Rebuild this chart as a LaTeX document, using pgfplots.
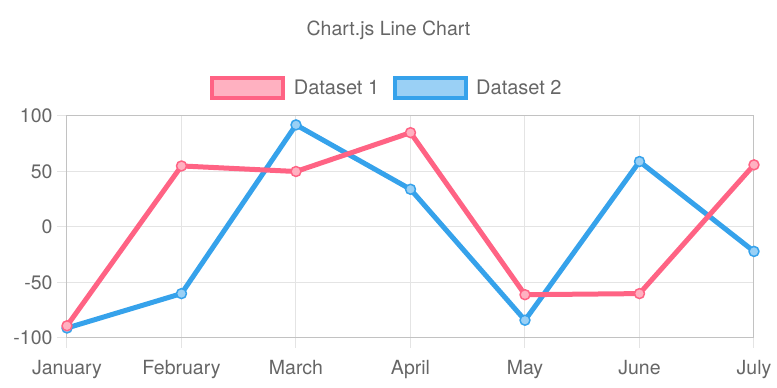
\documentclass[border=0pt]{standalone}
\usepackage{pgfplots}
\pgfplotsset{compat=1.18}
\usepackage{fontspec}
\setmainfont{TeX Gyre Heros}
\definecolor{pinkc}{RGB}{255,99,132}
\definecolor{pinkl}{RGB}{255,177,193}
\definecolor{bluec}{RGB}{54,162,235}
\definecolor{bluel}{RGB}{154,208,245}
\definecolor{txt}{RGB}{102,102,102}
\definecolor{gridc}{RGB}{228,228,228}
\begin{document}
\begin{tikzpicture}[x=1pt,y=1pt]
\useasboundingbox (0,0) rectangle (777,388);
\node[text=txt, font=\fontsize{19.5}{22}\selectfont] at (388.5,358) {Chart.js Line Chart};
\begin{axis}[
  at={(67pt,50pt)}, anchor=south west,
  scale only axis, width=687pt, height=222pt,
  xmin=0, xmax=6, ymin=-100, ymax=100,
  xtick={0,1,2,3,4,5,6},
  xticklabels={January,February,March,April,May,June,July},
  ytick={-100,-50,0,50,100},
  yticklabels={-100,-50,0,50,100},
  xtick pos=bottom, ytick pos=left,
  tick align=outside, major tick length=10pt,
  grid=major,
  grid style={draw=gridc, line width=1pt},
  major tick style={draw=gridc, line width=1pt},
  axis line style={draw=gridc!85!black, line width=1pt},
  ticklabel style={text=txt, font=\fontsize{19.5}{22}\selectfont},
  xticklabel style={yshift=-9pt},
  yticklabel style={xshift=-1pt},
  clip=false,
  legend columns=2,
  legend style={at={(0.4705,1.126)}, anchor=center, draw=none, fill=none,
    font=\fontsize{20}{22}\selectfont, text=txt,
    /tikz/every even column/.append style={column sep=5pt},
    inner sep=0pt, nodes={inner xsep=8.5pt}},
]
\addlegendimage{legend image code/.code={\draw[line width=4pt, draw=pinkc, fill=pinkl] (0pt,-10pt) rectangle (71pt,10pt);}}
\addlegendentry{Dataset 1}
\addlegendimage{legend image code/.code={\draw[line width=4pt, draw=bluec, fill=bluel] (0pt,-10pt) rectangle (71pt,10pt);}}
\addlegendentry{Dataset 2}
\addplot[bluec, line width=5pt, line join=round, mark=*, mark size=5pt,
  mark options={fill=bluel, draw=bluec, line width=1.5pt}, forget plot]
  coordinates {(0,-91) (1,-60) (2,92) (3,34) (4,-84) (5,59) (6,-22)};
\addplot[pinkc, line width=5pt, line join=round, mark=*, mark size=5pt,
  mark options={fill=pinkl, draw=pinkc, line width=1.5pt}, forget plot]
  coordinates {(0,-89) (1,55) (2,50) (3,85) (4,-61) (5,-60) (6,56)};
\end{axis}
\end{tikzpicture}
\end{document}
